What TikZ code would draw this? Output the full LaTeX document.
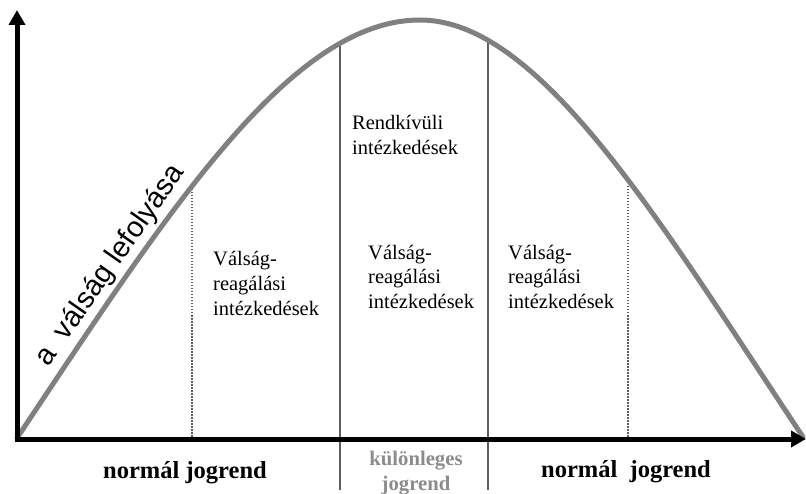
\documentclass[tikz,border=0pt]{standalone}
\usepackage{fontspec}
\setmainfont{Liberation Serif}
\newfontfamily\sansf{Liberation Sans}
\usetikzlibrary{arrows.meta}
\definecolor{curvegray}{RGB}{128,128,128}
\definecolor{linegray}{RGB}{95,95,95}
\definecolor{labelgray}{RGB}{140,140,140}
\tikzset{
  axis/.style={line width=5pt, black, -{Triangle[length=15pt,width=16pt]}},
  crisis/.style={line width=5pt, curvegray, line cap=round},
  divider/.style={line width=2.5pt, linegray},
  dotline/.style={line width=1.3pt, linegray, dash pattern=on 1.5pt off 1.5pt},
  lbl/.style={inner sep=0pt, anchor=base west, align=left, font=\fontsize{20.5}{25}\selectfont},
  regime/.style={inner sep=0pt, anchor=base, align=center, font=\bfseries\fontsize{24.5}{26}\selectfont},
}
\begin{document}
\begin{tikzpicture}[x=1pt,y=-1pt]
\useasboundingbox (0,0) rectangle (806,494);
% dividers
\draw[divider] (340,46) -- (340,490);
\draw[divider] (488,40) -- (488,490);
\draw[dotline] (192,186) -- (192,437);
\draw[dotline] (628,186) -- (628,437);
% crisis curve
\coordinate (start) at (17,438);
\coordinate (peak) at (420,20);
\coordinate (end) at (803,437);
\draw[crisis] (start) .. controls (167,213) and (290,20) .. (peak)
  .. controls (540,20) and (660,222) .. (end);
% axes
\coordinate (o) at (17,439);
\coordinate (ytip) at (17,10);
\coordinate (xtip) at (806,439);
\draw[axis] (17,441.5) -- (ytip);
\draw[axis] (14.5,439) -- (xtip);
% labels
\node[lbl] (left) at (213,316) {Válság-\\reagálási\\intézkedések};
\node[lbl] (mid) at (368,309) {Válság-\\reagálási\\intézkedések};
\node[lbl] (right) at (508,309) {Válság-\\reagálási\\intézkedések};
\node[lbl] (rend) at (352,155) {Rendkívüli\\intézkedések};
\node[regime] (n1) at (185,478) {normál jogrend};
\node[regime] (n2) at (626,477) {normál\ \ jogrend};
\node[regime, labelgray, font=\bfseries\fontsize{20.7}{25}\selectfont] (k) at (416,490) {különleges\\jogrend};
\node[inner sep=0pt, rotate=55, font=\sansf\fontsize{29}{30}\selectfont] (title) at (110.5,265.5) {a\ \ válság lefolyása};
\end{tikzpicture}
\end{document}
